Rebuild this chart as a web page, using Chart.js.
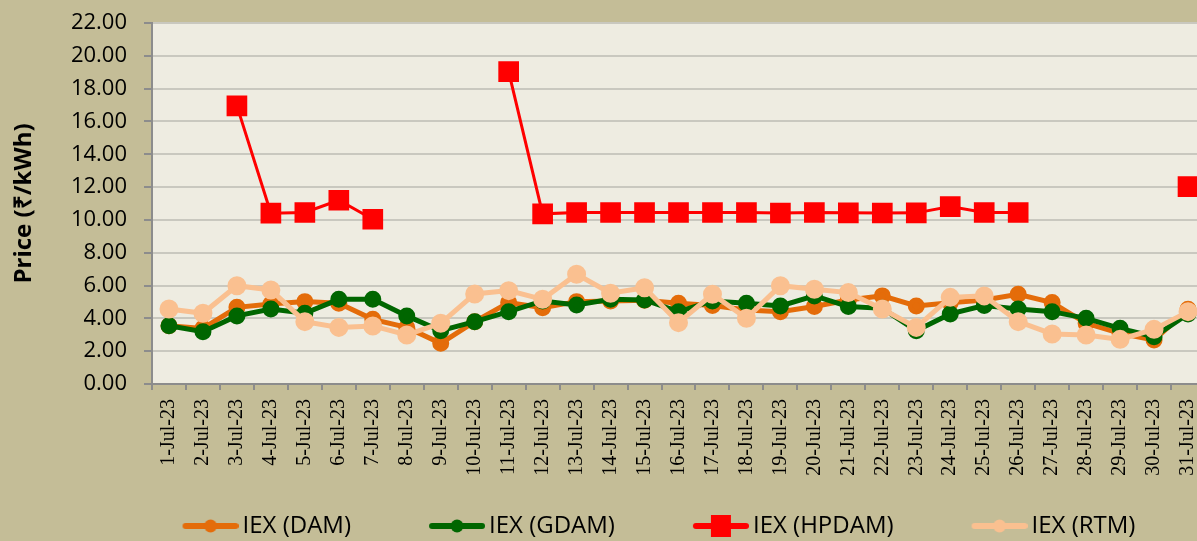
<!DOCTYPE html>
<html>
<head>
<meta charset="utf-8">
<script src="https://cdn.jsdelivr.net/npm/chart.js@4.4.0/dist/chart.umd.min.js"></script>
<style>
  html, body { margin: 0; padding: 0; overflow: hidden; background: #C4BD97; }
  #chart { display: block; }
</style>
</head>
<body>
<canvas id="chart" width="1250" height="541"></canvas>
<script>
const days = ['1-Jul-23', '2-Jul-23', '3-Jul-23', '4-Jul-23', '5-Jul-23', '6-Jul-23', '7-Jul-23', '8-Jul-23',
  '9-Jul-23', '10-Jul-23', '11-Jul-23', '12-Jul-23', '13-Jul-23', '14-Jul-23', '15-Jul-23', '16-Jul-23',
  '17-Jul-23', '18-Jul-23', '19-Jul-23', '20-Jul-23', '21-Jul-23', '22-Jul-23', '23-Jul-23', '24-Jul-23',
  '25-Jul-23', '26-Jul-23', '27-Jul-23', '28-Jul-23', '29-Jul-23', '30-Jul-23', '31-Jul-23']

const dam = [3.55, 3.39, 4.67, 4.88, 5.02, 4.92, 3.94, 3.45, 2.48, 3.80, 4.96, 4.65, 5.02, 5.06, 5.10, 4.92,
  4.78, 4.51, 4.41, 4.72, 5.12, 5.37, 4.76, 4.95, 5.12, 5.47, 4.96, 3.70, 3.09, 2.68, 4.55]
const gdam = [3.55, 3.19, 4.15, 4.57, 4.31, 5.16, 5.16, 4.15, 3.25, 3.80, 4.41, 5.06, 4.82, 5.16, 5.12, 4.41,
  5.06, 4.92, 4.76, 5.37, 4.72, 4.61, 3.25, 4.27, 4.78, 4.57, 4.41, 4.00, 3.39, 2.88, 4.27]
const hpdam = [null, null, 16.95, 10.41, 10.45, 11.20, 10.04, null, null, null, 19.04, 10.37, 10.45, 10.45, 10.45, 10.45,
  10.45, 10.45, 10.42, 10.45, 10.43, 10.42, 10.43, 10.81, 10.45, 10.45, null, null, null, null, 12.03]
const rtm = [4.57, 4.31, 5.99, 5.73, 3.80, 3.45, 3.54, 2.99, 3.70, 5.49, 5.69, 5.16, 6.69, 5.53, 5.87, 3.74,
  5.47, 4.00, 5.99, 5.77, 5.57, 4.57, 3.45, 5.28, 5.37, 3.80, 3.05, 2.99, 2.72, 3.33, 4.41]

const seriesNames = ['IEX (DAM)', 'IEX (GDAM)', 'IEX (HPDAM)', 'IEX (RTM)']
const yTicks = [0, 2, 4, 6, 8, 10, 12, 14, 16, 18, 20, 22]

const ORANGE = '#E46C0A', GREEN = '#006600', RED = '#FF0000', PEACH = '#FAC090'

// legend swatch: a short line with the marker in the middle, drawn into a canvas
function legendIcon(color, width, square) {
  const c = document.createElement('canvas')
  c.width = 132
  c.height = 26
  const ctx = c.getContext('2d')
  ctx.strokeStyle = color
  ctx.fillStyle = color
  ctx.lineWidth = width
  ctx.lineCap = 'round'
  ctx.beginPath()
  ctx.moveTo(79, 13)
  ctx.lineTo(129, 13)
  ctx.stroke()
  if (square) {
    ctx.fillRect(94, 2, 20, 22)
  } else {
    ctx.beginPath()
    ctx.arc(104, 13, 6.5, 0, Math.PI * 2)
    ctx.fill()
  }
  return c
}

const icons = [
  legendIcon(ORANGE, 6, false),
  legendIcon(GREEN, 6, false),
  legendIcon(RED, 6, true),
  legendIcon(PEACH, 6, false)
]

const background = {
  id: 'background',
  beforeDraw(chart) {
    const {ctx, chartArea: a} = chart
    ctx.save()
    ctx.fillStyle = '#C4BD97'
    ctx.fillRect(0, 0, chart.width, chart.height)
    ctx.fillStyle = '#EEECE1'
    ctx.fillRect(a.left, a.top, a.right - a.left, a.bottom - a.top)
    ctx.restore()
  }
}

new Chart(document.getElementById('chart'), {
  type: 'line',
  plugins: [background],
  data: {
    labels: days,
    datasets: [{
      label: seriesNames[0],
      data: dam,
      borderColor: ORANGE,
      backgroundColor: ORANGE,
      borderWidth: 5,
      pointRadius: 6,
      order: 4
    }, {
      label: seriesNames[1],
      data: gdam,
      borderColor: GREEN,
      backgroundColor: GREEN,
      borderWidth: 5,
      pointRadius: 6,
      order: 3
    }, {
      label: seriesNames[2],
      data: hpdam,
      borderColor: RED,
      backgroundColor: RED,
      borderWidth: 3,
      pointStyle: 'rect',
      pointRadius: 12.5,
      spanGaps: false,
      order: 1
    }, {
      label: seriesNames[3],
      data: rtm,
      borderColor: PEACH,
      backgroundColor: PEACH,
      borderWidth: 5,
      pointRadius: 7,
      order: 2
    }]
  },
  options: {
    responsive: false,
    animation: false,
    layout: {padding: {top: 23, left: 0, right: 0, bottom: -7}},
    plugins: {
      tooltip: {enabled: false},
      legend: {
        position: 'bottom',
        labels: {
          usePointStyle: true,
          pointStyleWidth: 116,
          padding: 10,
          color: '#000',
          font: {family: 'Open Sans', size: 24},
          generateLabels: (chart) => chart.data.datasets.map((ds, i) => ({
            text: ds.label,
            pointStyle: icons[i],
            fillStyle: ds.borderColor,
            strokeStyle: ds.borderColor,
            lineWidth: 0,
            fontColor: '#000',
            hidden: false,
            datasetIndex: i
          }))
        }
      }
    },
    scales: {
      x: {
        offset: true,
        grid: {offset: true, drawOnChartArea: false, tickLength: 6, color: '#8C8C8C', lineWidth: 2},
        border: {color: '#8C8C8C', width: 2},
        ticks: {
          autoSkip: false,
          minRotation: 90,
          maxRotation: 90,
          padding: 9,
          color: '#000',
          font: {family: 'Liberation Serif', size: 20}
        },
        afterFit(s) { s.height = 120 }
      },
      y: {
        min: yTicks[0],
        max: yTicks[yTicks.length - 1],
        afterBuildTicks(s) { s.ticks = yTicks.map(v => ({value: v})) },
        grid: {color: '#C9C8BF', lineWidth: 2, tickLength: 8, tickColor: '#8C8C8C'},
        border: {color: '#8C8C8C', width: 2},
        ticks: {
          padding: 17,
          color: '#000',
          font: {family: 'Open Sans', size: 22},
          callback: v => v.toFixed(2)
        },
        title: {
          display: true,
          text: 'Price (₹/kWh)',
          color: '#000',
          padding: {top: 10, bottom: 0},
          font: {family: 'Open Sans', size: 24, weight: 'bold'}
        },
        afterFit(s) {
          s.width = 152
          // the label gap would otherwise push the plot top down
          s.paddingTop = 0
          s.paddingBottom = 0
        }
      },
      yRight: {
        position: 'right',
        display: true,
        grid: {display: false},
        border: {display: false},
        ticks: {display: false},
        afterFit(s) { s.width = 45 }
      }
    }
  }
})
</script>
</body>
</html>
